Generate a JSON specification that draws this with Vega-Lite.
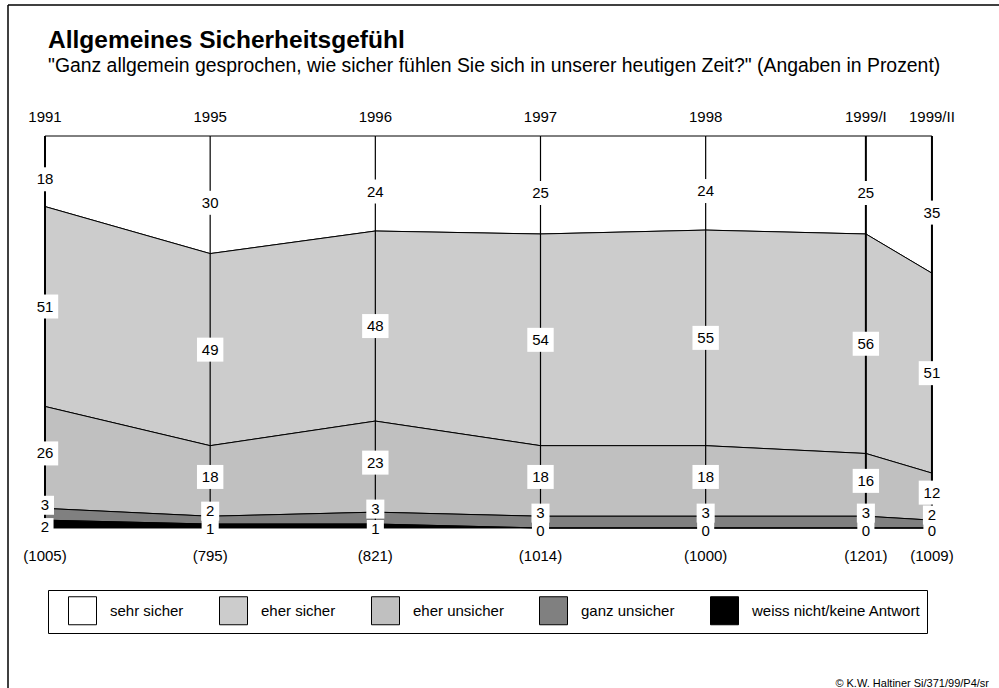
{
  "$schema": "https://vega.github.io/schema/vega-lite/v6.json",
  "autosize": "none",
  "width": 991,
  "height": 683,
  "padding": {"left": 8, "top": 5, "right": 0, "bottom": 0},
  "background": "white",
  "config": {"view": {"stroke": null}, "font": "Liberation Sans", "text": {"font": "Liberation Sans", "color": "black"}},
  "title": {
    "text": "Allgemeines Sicherheitsgefühl",
    "subtitle": "\"Ganz allgemein gesprochen, wie sicher fühlen Sie sich in unserer heutigen Zeit?\" (Angaben in Prozent)",
    "anchor": "start",
    "frame": "group",
    "offset": -72,
    "dx": 40,
    "font": "Liberation Sans",
    "fontSize": 24.5,
    "fontWeight": "bold",
    "color": "black",
    "subtitleFont": "Liberation Sans",
    "subtitleFontSize": 19.4,
    "subtitleColor": "black",
    "subtitlePadding": 3
  },
  "datasets": {
    "surveys": [
      {"year": "1991", "pos": 0, "n": 1005},
      {"year": "1995", "pos": 1, "n": 795},
      {"year": "1996", "pos": 2, "n": 821},
      {"year": "1997", "pos": 3, "n": 1014},
      {"year": "1998", "pos": 4, "n": 1000},
      {"year": "1999/I", "pos": 4.97, "n": 1201},
      {"year": "1999/II", "pos": 5.37, "n": 1009}
    ],
    "answers": [
      {"year": "1991", "cat": "sehr sicher", "value": 18},
      {"year": "1991", "cat": "eher sicher", "value": 51},
      {"year": "1991", "cat": "eher unsicher", "value": 26},
      {"year": "1991", "cat": "ganz unsicher", "value": 3},
      {"year": "1991", "cat": "weiss nicht/keine Antwort", "value": 2},
      {"year": "1995", "cat": "sehr sicher", "value": 30},
      {"year": "1995", "cat": "eher sicher", "value": 49},
      {"year": "1995", "cat": "eher unsicher", "value": 18},
      {"year": "1995", "cat": "ganz unsicher", "value": 2},
      {"year": "1995", "cat": "weiss nicht/keine Antwort", "value": 1},
      {"year": "1996", "cat": "sehr sicher", "value": 24},
      {"year": "1996", "cat": "eher sicher", "value": 48},
      {"year": "1996", "cat": "eher unsicher", "value": 23},
      {"year": "1996", "cat": "ganz unsicher", "value": 3},
      {"year": "1996", "cat": "weiss nicht/keine Antwort", "value": 1},
      {"year": "1997", "cat": "sehr sicher", "value": 25},
      {"year": "1997", "cat": "eher sicher", "value": 54},
      {"year": "1997", "cat": "eher unsicher", "value": 18},
      {"year": "1997", "cat": "ganz unsicher", "value": 3},
      {"year": "1997", "cat": "weiss nicht/keine Antwort", "value": 0},
      {"year": "1998", "cat": "sehr sicher", "value": 24},
      {"year": "1998", "cat": "eher sicher", "value": 55},
      {"year": "1998", "cat": "eher unsicher", "value": 18},
      {"year": "1998", "cat": "ganz unsicher", "value": 3},
      {"year": "1998", "cat": "weiss nicht/keine Antwort", "value": 0},
      {"year": "1999/I", "cat": "sehr sicher", "value": 25},
      {"year": "1999/I", "cat": "eher sicher", "value": 56},
      {"year": "1999/I", "cat": "eher unsicher", "value": 16},
      {"year": "1999/I", "cat": "ganz unsicher", "value": 3},
      {"year": "1999/I", "cat": "weiss nicht/keine Antwort", "value": 0},
      {"year": "1999/II", "cat": "sehr sicher", "value": 35},
      {"year": "1999/II", "cat": "eher sicher", "value": 51},
      {"year": "1999/II", "cat": "eher unsicher", "value": 12},
      {"year": "1999/II", "cat": "ganz unsicher", "value": 2},
      {"year": "1999/II", "cat": "weiss nicht/keine Antwort", "value": 0}
    ]
  },
  "layer": [
    {
      "data": {"name": "answers"},
      "transform": [
        {"lookup": "year", "from": {"data": {"name": "surveys"}, "key": "year", "fields": ["pos"]}},
        {"calculate": "indexof(['weiss nicht/keine Antwort','ganz unsicher','eher unsicher','eher sicher','sehr sicher'], datum.cat)", "as": "k"},
        {"stack": "value", "groupby": ["year"], "sort": [{"field": "k", "order": "ascending"}], "offset": "normalize", "as": ["y0", "y1"]}
      ],
      "mark": {"type": "area", "stroke": "black", "strokeWidth": 1, "interpolate": "linear"},
      "encoding": {
        "x": {"field": "pos", "type": "quantitative", "scale": {"domain": [-0.224, 5.776], "nice": false, "zero": false}, "axis": null},
        "y": {"field": "y1", "type": "quantitative", "scale": {"domain": [-0.4082, 1.3342], "nice": false, "zero": false}, "axis": null},
        "y2": {"field": "y0"},
        "color": {
          "field": "cat",
          "type": "nominal",
          "scale": {
            "domain": ["sehr sicher", "eher sicher", "eher unsicher", "ganz unsicher", "weiss nicht/keine Antwort"],
            "range": ["#ffffff", "#cccccc", "#c0c0c0", "#808080", "#000000"]
          },
          "legend": {
            "orient": "none",
            "legendX": 40,
            "legendY": 585,
            "direction": "horizontal",
            "title": null,
            "symbolType": "square",
            "symbolSize": 784,
            "symbolStrokeColor": "black",
            "symbolStrokeWidth": 1,
            "symbolOpacity": 1,
            "labelFont": "Liberation Sans",
            "labelFontSize": 15,
            "labelColor": "black",
            "labelOffset": 13,
            "labelLimit": 300,
            "columnPadding": 21,
            "padding": 6,
            "symbolOffset": 14,
            "strokeColor": "black",
            "fillColor": "white"
          }
        }
      }
    },
    {
      "data": {"name": "surveys"},
      "layer": [
        {
          "mark": {"type": "rule", "color": "black"},
          "encoding": {
            "x": {"field": "pos", "type": "quantitative", "scale": {"domain": [-0.224, 5.776], "nice": false, "zero": false}, "axis": null},
            "y": {"datum": 0, "type": "quantitative", "scale": {"domain": [-0.4082, 1.3342], "nice": false, "zero": false}, "axis": null},
            "y2": {"datum": 1},
            "strokeWidth": {"condition": {"test": "datum.pos == 0 || datum.pos > 4.5", "value": 2}, "value": 1.2}
          }
        },
        {
          "mark": {"type": "text", "fontSize": 15, "baseline": "middle", "dy": -19},
          "encoding": {
            "x": {"field": "pos", "type": "quantitative", "scale": {"domain": [-0.224, 5.776], "nice": false, "zero": false}, "axis": null},
            "y": {"datum": 1, "type": "quantitative", "scale": {"domain": [-0.4082, 1.3342], "nice": false, "zero": false}, "axis": null},
            "text": {"field": "year"}
          }
        },
        {
          "transform": [{"calculate": "'(' + datum.n + ')'", "as": "nlabel"}],
          "mark": {"type": "text", "fontSize": 15, "baseline": "middle", "dy": 28},
          "encoding": {
            "x": {"field": "pos", "type": "quantitative", "scale": {"domain": [-0.224, 5.776], "nice": false, "zero": false}, "axis": null},
            "y": {"datum": 0, "type": "quantitative", "scale": {"domain": [-0.4082, 1.3342], "nice": false, "zero": false}, "axis": null},
            "text": {"field": "nlabel"}
          }
        }
      ]
    },
    {
      "data": {"name": "answers"},
      "transform": [
        {"lookup": "year", "from": {"data": {"name": "surveys"}, "key": "year", "fields": ["pos"]}},
        {"calculate": "indexof(['weiss nicht/keine Antwort','ganz unsicher','eher unsicher','eher sicher','sehr sicher'], datum.cat)", "as": "k"},
        {"stack": "value", "groupby": ["year"], "sort": [{"field": "k", "order": "ascending"}], "offset": "normalize", "as": ["y0", "y1"]},
        {"calculate": "(datum.y0 + datum.y1) / 2", "as": "mid"}
      ],
      "encoding": {
        "x": {"field": "pos", "type": "quantitative", "scale": {"domain": [-0.224, 5.776], "nice": false, "zero": false}, "axis": null},
        "y": {"field": "mid", "type": "quantitative", "scale": {"domain": [-0.4082, 1.3342], "nice": false, "zero": false}, "axis": null}
      },
      "layer": [
        {
          "transform": [{"filter": "datum.k == 4"}],
          "mark": {"type": "point", "shape": "M-1.1,-1L1.1,-1L1.1,1L-1.1,1Z", "size": 576, "filled": true, "fill": "white", "opacity": 1, "strokeWidth": 0, "yOffset": 8}
        },
        {
          "transform": [{"filter": "datum.k == 4"}],
          "mark": {"type": "text", "fontSize": 15, "baseline": "middle", "dy": 8},
          "encoding": {"text": {"field": "value"}}
        },
        {
          "transform": [{"filter": "datum.k == 3"}],
          "mark": {"type": "point", "shape": "M-1.1,-1L1.1,-1L1.1,1L-1.1,1Z", "size": 576, "filled": true, "fill": "white", "opacity": 1, "strokeWidth": 0}
        },
        {
          "transform": [{"filter": "datum.k == 3"}],
          "mark": {"type": "text", "fontSize": 15, "baseline": "middle"},
          "encoding": {"text": {"field": "value"}}
        },
        {
          "transform": [{"filter": "datum.k == 2"}],
          "mark": {"type": "point", "shape": "M-1.1,-1L1.1,-1L1.1,1L-1.1,1Z", "size": 576, "filled": true, "fill": "white", "opacity": 1, "strokeWidth": 0, "yOffset": -4}
        },
        {
          "transform": [{"filter": "datum.k == 2"}],
          "mark": {"type": "text", "fontSize": 15, "baseline": "middle", "dy": -4},
          "encoding": {"text": {"field": "value"}}
        },
        {
          "transform": [{"filter": "datum.k == 1"}],
          "mark": {"type": "point", "shape": "M-0.95,-1L0.95,-1L0.95,1L-0.95,1Z", "size": 361, "filled": true, "fill": "white", "opacity": 1, "strokeWidth": 0, "yOffset": -9}
        },
        {
          "transform": [{"filter": "datum.k == 1"}],
          "mark": {"type": "text", "fontSize": 15, "baseline": "middle", "dy": -9},
          "encoding": {"text": {"field": "value"}}
        },
        {
          "transform": [{"filter": "datum.k == 0"}],
          "mark": {"type": "point", "shape": "M-0.95,-1L0.95,-1L0.95,1L-0.95,1Z", "size": 324, "filled": true, "fill": "white", "opacity": 1, "strokeWidth": 0, "yOffset": 3}
        },
        {
          "transform": [{"filter": "datum.k == 0"}],
          "mark": {"type": "text", "fontSize": 15, "baseline": "middle", "dy": 3},
          "encoding": {"text": {"field": "value"}}
        }
      ]
    },
    {
      "data": {"values": [{"edge": "left"}]},
      "mark": {"type": "rule", "color": "black", "strokeWidth": 1.5},
      "encoding": {"x": {"datum": -0.224, "type": "quantitative", "scale": {"domain": [-0.224, 5.776], "nice": false, "zero": false}, "axis": null}}
    },
    {
      "data": {"values": [{"edge": "top"}]},
      "mark": {"type": "rule", "color": "black", "strokeWidth": 1.5},
      "encoding": {"y": {"datum": 1.3342, "type": "quantitative", "scale": {"domain": [-0.4082, 1.3342], "nice": false, "zero": false}, "axis": null}}
    },
    {
      "data": {"values": [{"note": "© K.W. Haltiner Si/371/99/P4/sr"}]},
      "mark": {"type": "text", "fontSize": 11, "align": "right", "baseline": "alphabetic", "dx": -10, "dy": -1},
      "encoding": {
        "x": {"datum": 5.776, "type": "quantitative", "scale": {"domain": [-0.224, 5.776], "nice": false, "zero": false}, "axis": null},
        "y": {"datum": -0.4082, "type": "quantitative", "scale": {"domain": [-0.4082, 1.3342], "nice": false, "zero": false}, "axis": null},
        "text": {"field": "note"}
      }
    }
  ]
}
